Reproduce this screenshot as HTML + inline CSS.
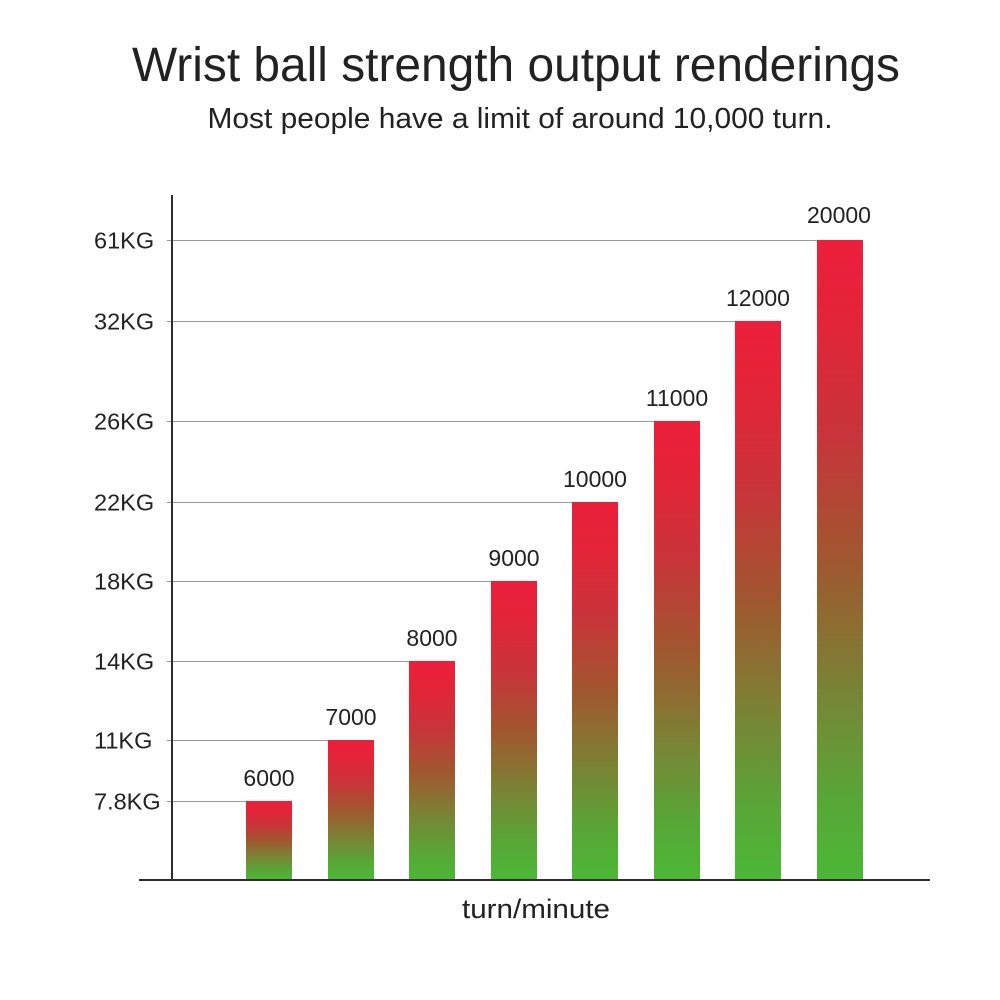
<!DOCTYPE html>
<html>
<head>
<meta charset="utf-8">
<style>
html,body{margin:0;padding:0;background:#fff;}
svg{display:block;}
text{font-family:"Liberation Sans",Arial,sans-serif;fill:#222;}
</style>
</head>
<body>
<svg width="1000" height="1000" viewBox="0 0 1000 1000" xmlns="http://www.w3.org/2000/svg">
<defs>
<linearGradient id="g" x1="0" y1="0" x2="0" y2="1">
<stop offset="0" stop-color="#ec1f3b"/>
<stop offset="0.12" stop-color="#e42438"/>
<stop offset="0.3" stop-color="#c9343a"/>
<stop offset="0.5" stop-color="#a0572f"/>
<stop offset="0.7" stop-color="#7a8335"/>
<stop offset="0.87" stop-color="#58a637"/>
<stop offset="1" stop-color="#4bb836"/>
</linearGradient>
</defs>
<rect width="1000" height="1000" fill="#fff"/>

<text x="516" y="81" font-size="48" text-anchor="middle" textLength="768" lengthAdjust="spacingAndGlyphs">Wrist ball strength output renderings</text>
<text x="520" y="128" font-size="28.5" text-anchor="middle" textLength="625" lengthAdjust="spacingAndGlyphs">Most people have a limit of around 10,000 turn.</text>

<!-- gridlines -->
<g stroke="#9a9a9a" stroke-width="1">
<line x1="167" y1="240.5" x2="817" y2="240.5"/>
<line x1="167" y1="321.5" x2="735" y2="321.5"/>
<line x1="167" y1="421.5" x2="654" y2="421.5"/>
<line x1="167" y1="502.5" x2="572" y2="502.5"/>
<line x1="167" y1="581.5" x2="491" y2="581.5"/>
<line x1="167" y1="661.5" x2="409" y2="661.5"/>
<line x1="167" y1="740.5" x2="328" y2="740.5"/>
<line x1="167" y1="801.5" x2="246" y2="801.5"/>
</g>

<!-- y labels -->
<g font-size="23.5">
<text x="94" y="248.5">61KG</text>
<text x="94" y="329.5">32KG</text>
<text x="94" y="429.5">26KG</text>
<text x="94" y="510.5">22KG</text>
<text x="94" y="589.5">18KG</text>
<text x="94" y="669.5">14KG</text>
<text x="94" y="748.5">11KG</text>
<text x="94" y="809.5">7.8KG</text>
</g>

<!-- bars -->
<g fill="url(#g)">
<rect x="246" y="801" width="46" height="79"/>
<rect x="328" y="740" width="46" height="140"/>
<rect x="409" y="661" width="46" height="219"/>
<rect x="491" y="581" width="46" height="299"/>
<rect x="572" y="502" width="46" height="378"/>
<rect x="654" y="421" width="46" height="459"/>
<rect x="735" y="321" width="46" height="559"/>
<rect x="817" y="240" width="46" height="640"/>
</g>

<!-- bar labels -->
<g font-size="23" text-anchor="middle">
<text x="269" y="786">6000</text>
<text x="351" y="725">7000</text>
<text x="432" y="646">8000</text>
<text x="514" y="566">9000</text>
<text x="595" y="487">10000</text>
<text x="677" y="406">11000</text>
<text x="758" y="306">12000</text>
<text x="839" y="223">20000</text>
</g>

<!-- axes -->
<line x1="172" y1="195" x2="172" y2="881" stroke="#2e2e2e" stroke-width="2"/>
<line x1="139" y1="880" x2="930" y2="880" stroke="#2e2e2e" stroke-width="2"/>

<text x="536" y="918" font-size="27" text-anchor="middle" textLength="148" lengthAdjust="spacingAndGlyphs">turn/minute</text>
</svg>
</body>
</html>
